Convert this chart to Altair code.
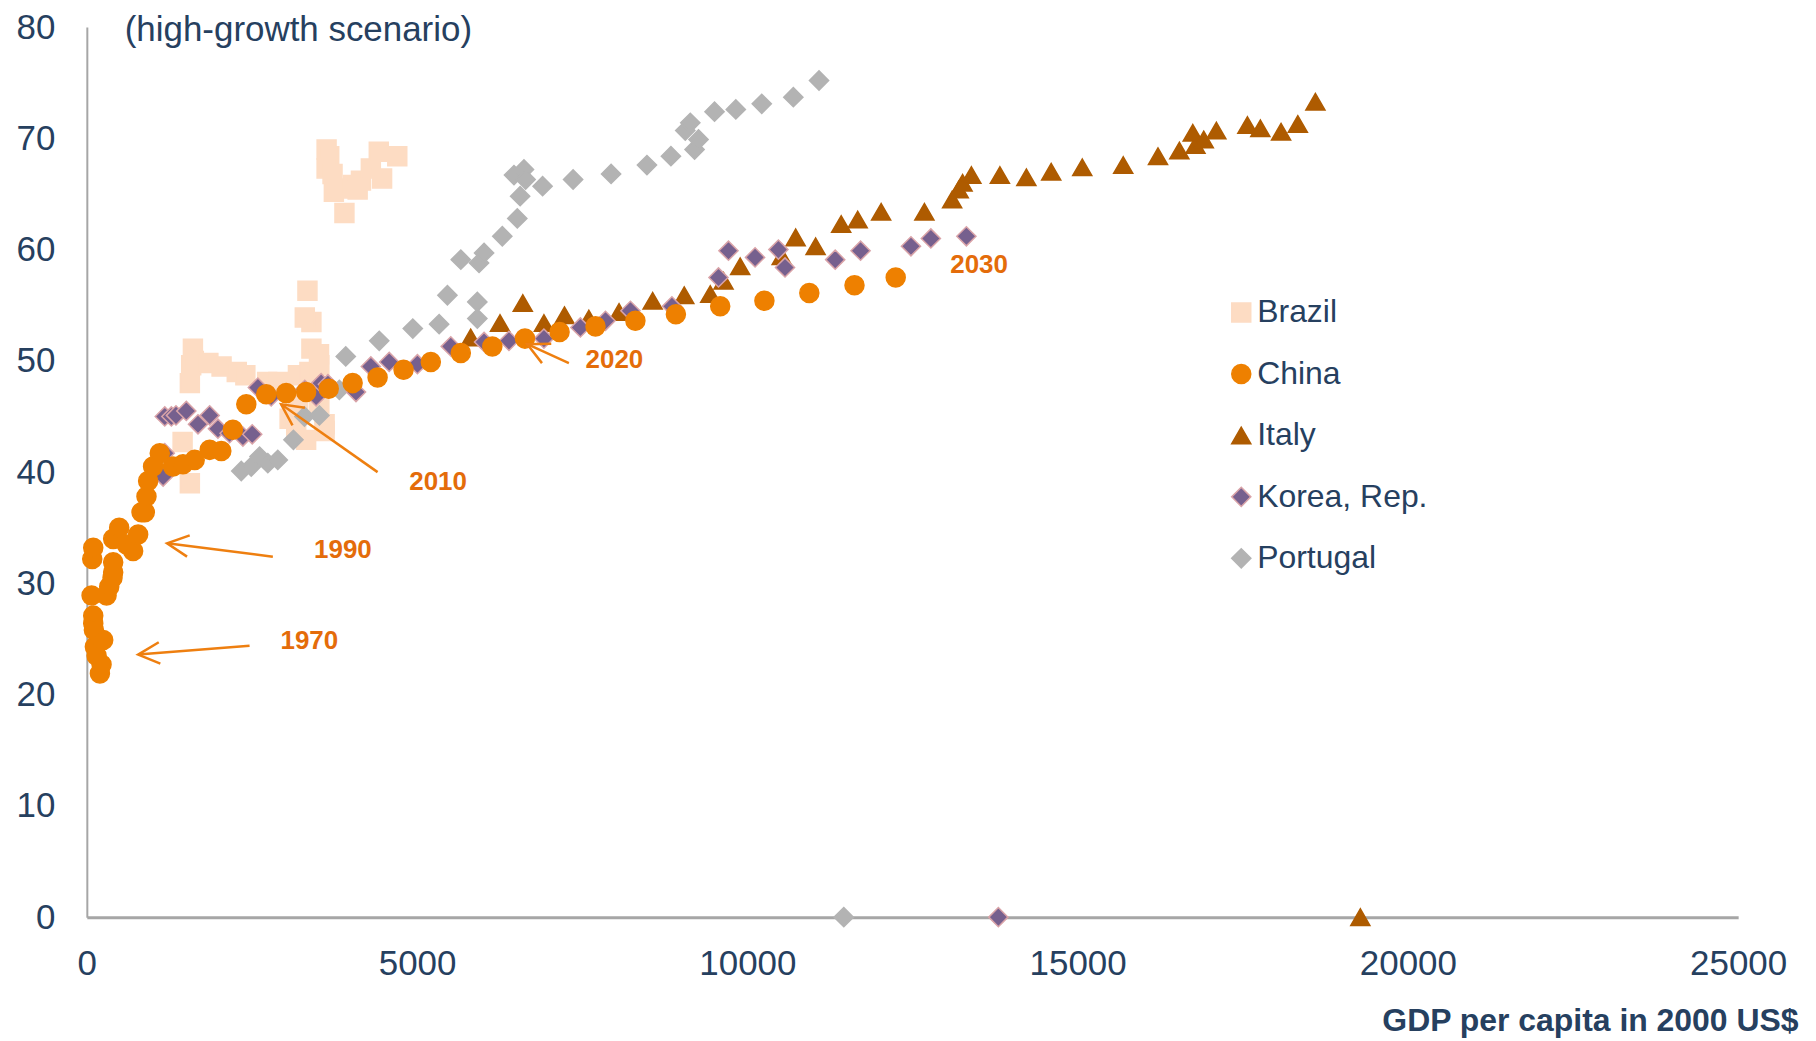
import altair as alt
import pandas as pd

FONT = "Liberation Sans"
NAVY = "#26405F"
AXIS_GRAY = "#A6A6A6"
ANNOT_TEXT = "#E46C0A"
ANNOT_LINE = "#EE7F10"

subtitle = "(high-growth scenario)"
x_title = "GDP per capita in 2000 US$"
x_ticks = [0, 5000, 10000, 15000, 20000, 25000]
y_ticks = [0, 10, 20, 30, 40, 50, 60, 70, 80]

countries = ["Brazil", "China", "Italy", "Korea, Rep.", "Portugal"]
fill_colors = ["#FDDCC3", "#EE8000", "#AE5B00", "#76608E", "#B3B3B3"]
stroke_colors = ["#FDDCC3", "#EE8000", "#AE5B00", "#D9A3A8", "#B3B3B3"]
shapes = ["square", "circle", "triangle-up", "diamond", "diamond"]
sizes = [361, 370, 430, 600, 620]

brazil_x = [1450, 1560, 1560, 1580, 1606, 1620, 1840, 2040, 2270, 2400, 2730, 2900,
            3070, 3170, 3200, 3196, 3320, 3370, 3400, 3520, 3515, 3520, 3600, 3600,
            3400, 3300, 3340, 3630, 3670, 3630, 3720, 3740, 3840, 3900, 4030, 4100,
            4150, 4300, 4420, 4470, 4700]
brazil_y = [42.7, 39.0, 48.0, 49.6, 51.1, 50.0, 49.8, 49.5, 49.0, 48.7, 48.1, 48.1,
            44.8, 43.9, 46.2, 48.7, 42.9, 49.0, 51.1, 49.6, 50.6, 45.7, 44.3, 43.7,
            53.5, 53.9, 56.3, 69.0, 68.4, 67.3, 66.8, 65.2, 65.5, 63.3, 65.8, 65.4,
            66.2, 67.3, 68.8, 66.4, 68.4]

portugal_x = [2338, 2489, 2615, 2740, 2891, 3128, 3295, 3521, 3823, 3920, 4427, 4935,
              5334, 5459, 5662, 5912, 5912, 5938, 6014, 6290, 6517, 6560, 6467, 6618,
              6643, 6900, 7362, 7937, 8480, 8843, 9201, 9261, 9060, 9136, 9503, 9825,
              10218, 10696, 11085, 11460]
portugal_y = [40.1, 40.5, 41.4, 40.8, 41.1, 42.9, 45.0, 45.1, 47.4, 50.4, 51.8, 52.9,
              53.3, 55.9, 59.1, 55.3, 53.8, 58.8, 59.7, 61.2, 62.8, 64.8, 66.7, 67.2,
              66.3, 65.7, 66.3, 66.8, 67.6, 68.4, 69.0, 69.9, 70.7, 71.4, 72.4, 72.6,
              73.1, 73.7, 75.2, 0.0]

italy_x = [5812, 6255, 6600, 6920, 7232, 7600, 8058, 8566, 9045, 9438, 9639, 9891,
           10520, 10731, 11033, 11420, 11670, 12025, 12680, 13100, 13200, 13258, 13391,
           13823, 14224, 14600, 15070, 15690, 16217, 16540, 16784, 16743, 16910, 17100,
           17570, 17766, 18080, 18334, 18600, 19280]
italy_y = [52.1, 53.4, 55.2, 53.4, 54.1, 53.8, 54.4, 55.4, 55.9, 56.0, 57.2, 58.5,
           59.4, 61.1, 60.3, 62.3, 62.7, 63.4, 63.4, 64.5, 65.4, 66.0, 66.7,
           66.7, 66.5, 67.0, 67.4, 67.6, 68.4, 68.9, 69.4, 70.5, 69.9, 70.7,
           71.2, 70.9, 70.6, 71.3, 73.3, 0.0]

korea_x = [1155, 1180, 1180, 1280, 1350, 1506, 1683, 1860, 1985, 2162, 2363, 2504,
           2589, 2791, 3300, 3471, 3547, 3650, 4075, 4300, 4578, 5005, 5510, 6014,
           6391, 6920, 7472, 7852, 8230, 8858, 9563, 9714, 10117, 10470, 10570, 11330,
           11714, 12477, 12778, 13316, 13800]
korea_y = [39.6, 41.7, 45.0, 45.0, 45.1, 45.5, 44.3, 45.1, 43.9, 43.5, 43.2, 43.4,
           47.6, 46.8, 47.4, 46.8, 48.0, 47.9, 47.2, 49.5, 49.9, 49.7, 51.3, 51.7,
           51.8, 52.0, 53.0, 53.6, 54.5, 54.9, 57.5, 59.9, 59.3, 60.0, 58.4, 59.1,
           59.9, 60.3, 61.0, 61.2, 0.0]

china_x = [72, 82, 97, 97, 97, 107, 122, 148, 198, 223, 248, 299, 339, 389, 399, 399,
           399, 490, 601, 701, 777, 828, 878, 903, 928, 1003, 1104, 1305, 1456, 1633,
           1860, 2036, 2211, 2414, 2716, 3018, 3320, 3662, 4024, 4402, 4795, 5208,
           5662, 6139, 6633, 7157, 7701, 8305, 8918, 9589, 10258, 10938, 11622, 12246]
china_y = [28.9, 32.2, 33.2, 27.1, 26.4, 25.8, 24.3, 23.5, 21.9, 22.7, 24.9, 28.9,
           29.7, 30.5, 31.0, 31.9, 34.0, 35.0, 33.5, 32.9, 34.4, 36.4, 36.4, 37.8,
           39.2, 40.5, 41.7, 40.5, 40.7, 41.1, 42.0, 41.9, 43.8, 46.1, 47.0, 47.1,
           47.2, 47.5, 48.0, 48.5, 49.2, 49.9, 50.7, 51.3, 52.0, 52.6, 53.1, 53.6,
           54.2, 54.9, 55.4, 56.1, 56.8, 57.5]

# annotations (data units)
annot_labels = ["1970", "1990", "2010", "2020", "2030"]
annot_lx = [2932, 3440, 4881, 7550, 13072]
annot_ly = [24.8, 33.0, 39.1, 50.1, 58.6]

arrow_tail_x = [2464, 2816, 4402, 7298]
arrow_tail_y = [24.4, 32.4, 40.0, 49.8]
arrow_tip_x = [777, 1215, 2942, 6668]
arrow_tip_y = [23.6, 33.6, 46.1, 51.5]
arrow_angle = [355.75, 7.15, 35.2, 25.6]

# ---- build tables ----
draw_order = [("Brazil", brazil_x, brazil_y), ("Portugal", portugal_x, portugal_y),
              ("Italy", italy_x, italy_y), ("Korea, Rep.", korea_x, korea_y),
              ("China", china_x, china_y)]
rows = []
for name, xs, ys in draw_order:
    for xv, yv in zip(xs, ys):
        rows.append({"country": name, "gdp": xv, "share": yv})
points = pd.DataFrame(rows)

arrows = pd.DataFrame({"tx": arrow_tail_x, "ty": arrow_tail_y,
                       "hx": arrow_tip_x, "hy": arrow_tip_y, "ang": arrow_angle})
labels = pd.DataFrame({"lx": annot_lx, "ly": annot_ly, "lt": annot_labels})

x_scale = alt.Scale(domain=[0, 25000], nice=False, zero=True)
y_scale = alt.Scale(domain=[0, 80], nice=False, zero=True)

x_axis = alt.Axis(values=x_ticks, format="d", title=x_title, titleFont=FONT,
                  titleFontSize=32, titleFontWeight="bold", titleColor=NAVY,
                  titleX=1715, titleY=114, titleAlign="right", titleBaseline="alphabetic",
                  titleAnchor="end",
                  labelFont=FONT, labelFontSize=35, labelColor=NAVY, labelPadding=29,
                  labelFlush=False, labelOverlap=False,
                  ticks=False, tickSize=0, grid=False,
                  domainColor=AXIS_GRAY, domainWidth=3)
y_axis = alt.Axis(values=y_ticks, title=None, labelFont=FONT, labelFontSize=35,
                  labelColor=NAVY, labelPadding=32, labelOverlap=False,
                  ticks=False, tickSize=0, grid=False,
                  domainColor=AXIS_GRAY, domainWidth=2)

legend = alt.Legend(orient="none", legendX=1141, legendY=270, title=None,
                    labelFont=FONT, labelFontSize=32, labelColor=NAVY, labelLimit=500,
                    symbolSize=380, symbolStrokeWidth=1.5, labelOffset=0,
                    rowPadding=29.6, padding=0)

pts = alt.Chart(points).mark_point(filled=True, opacity=1, strokeWidth=1.5).encode(
    x=alt.X("gdp:Q", scale=x_scale, axis=x_axis),
    y=alt.Y("share:Q", scale=y_scale, axis=y_axis),
    color=alt.Color("country:N", scale=alt.Scale(domain=countries, range=fill_colors),
                    legend=legend),
    stroke=alt.Stroke("country:N", scale=alt.Scale(domain=countries, range=stroke_colors),
                      legend=legend),
    shape=alt.Shape("country:N", scale=alt.Scale(domain=countries, range=shapes),
                    legend=legend),
    size=alt.Size("country:N", scale=alt.Scale(domain=countries, range=sizes),
                  legend=None),
    order=alt.Order("idx:Q"),
).transform_window(idx="row_number()")

rules = alt.Chart(arrows).mark_rule(strokeWidth=2.5, color=ANNOT_LINE).encode(
    x=alt.X("tx:Q", scale=x_scale, axis=x_axis),
    y=alt.Y("ty:Q", scale=y_scale, axis=y_axis),
    x2="hx:Q",
    y2="hy:Q",
)

heads = alt.Chart(arrows).mark_point(shape="M1,-0.5L0,0L1,0.5", filled=False,
                                      size=1850, strokeWidth=2.5, color=ANNOT_LINE,
                                      opacity=1).encode(
    x=alt.X("hx:Q", scale=x_scale, axis=x_axis),
    y=alt.Y("hy:Q", scale=y_scale, axis=y_axis),
    angle=alt.Angle("ang:Q", scale=None),
)

texts = alt.Chart(labels).mark_text(align="left", baseline="middle", font=FONT,
                                    fontSize=26, fontWeight="bold",
                                    color=ANNOT_TEXT).encode(
    x=alt.X("lx:Q", scale=x_scale, axis=x_axis),
    y=alt.Y("ly:Q", scale=y_scale, axis=y_axis),
    text="lt:N",
)

head_title = alt.Chart(pd.DataFrame({"t": [subtitle]})).mark_text(
    align="left", baseline="alphabetic", font=FONT, fontSize=35, color=NAVY
).encode(x=alt.value(38), y=alt.value(14), text="t:N")

chart = alt.layer(pts, rules, heads, texts, head_title).properties(
    width=1655, height=892,
    padding={"left": 79, "top": 18, "right": 70, "bottom": 125},
    autosize=alt.AutoSizeParams(type="none"),
).configure_view(stroke=None)

chart.save("out.html", embed_options={"renderer": "svg", "actions": False})
